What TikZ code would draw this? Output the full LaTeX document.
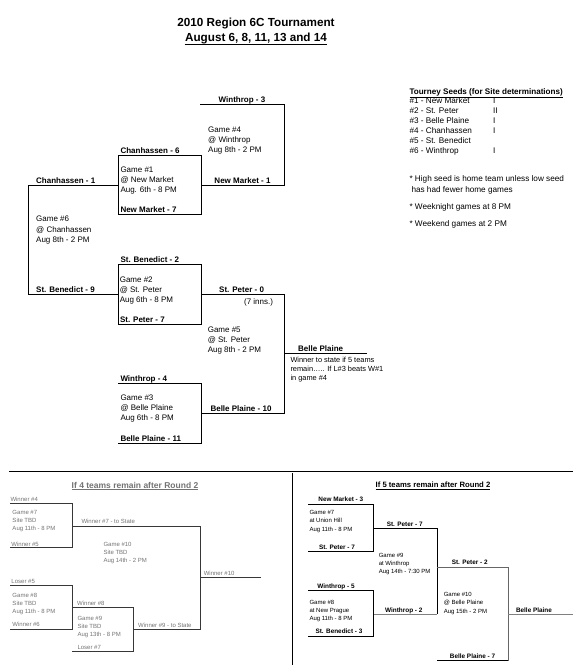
\documentclass[tikz,border=0pt]{standalone}
\usepackage{fontspec}
\setmainfont{Liberation Sans}
\usepackage{tikz}
\definecolor{lgray}{RGB}{115,115,115}
\definecolor{dgray}{RGB}{55,55,55}

\begin{document}
\begin{tikzpicture}[x=1pt,y=-1pt,line width=1pt,inner sep=0pt]
		\tikzstyle{team}=[font=\bfseries\fontsize{8}{10}\selectfont,anchor=base]
		\tikzstyle{game}=[font=\fontsize{8}{10.2}\selectfont,align=left,anchor=north west]
		\tikzstyle{note}=[font=\fontsize{8.2}{10}\selectfont,anchor=base west]
		\tikzstyle{gtxt}=[font=\fontsize{6}{7.8}\selectfont,text=lgray,align=left,anchor=north west]
		\tikzstyle{glbl}=[font=\fontsize{6}{7.8}\selectfont,text=lgray,anchor=base west]
		\tikzstyle{rtxt}=[font=\fontsize{6}{8.2}\selectfont,align=left,anchor=north west]
		\tikzstyle{rlbl}=[font=\bfseries\fontsize{6.4}{8}\selectfont,anchor=base]
		
		\useasboundingbox (0,0) rectangle (580,665);
		
		% title
		\node[font=\bfseries\fontsize{11.7}{14}\selectfont,anchor=base] (t1) at (256,26.5) {2010 Region 6C Tournament};
		\node[font=\bfseries\fontsize{11.7}{14}\selectfont,anchor=base] (t2) at (256,41.9) {August 6, 8, 11, 13 and 14};
		\draw[line width=1.1pt] ([yshift=-2.2pt]t2.base west) -- ([yshift=-2.2pt]t2.base east);
		
		% upper bracket
		\coordinate (w3) at (200,104);
		\coordinate (w3r) at (284,104);
		\coordinate (nm1) at (201,185);
		\coordinate (nm1r) at (284,185);
		\coordinate (c1) at (28,185);
		\coordinate (c1r) at (118,185);
		\coordinate (sb9) at (28,294);
		\coordinate (sb9r) at (118,294);
		\coordinate (sp0) at (201,294);
		\coordinate (sp0r) at (284,294);
		\coordinate (bp10) at (201,413);
		\coordinate (bp10r) at (284,413);
		\coordinate (bp) at (284,353);
		\coordinate (bpr) at (367,353);
		\coordinate (g1a) at (118,155);
		\coordinate (g1b) at (201,214);
		\coordinate (g2a) at (118,264);
		\coordinate (g2b) at (201,324);
		\coordinate (g3a) at (118,383);
		\coordinate (g3b) at (201,383);
		\coordinate (g3c) at (201,443);
		\coordinate (g3d) at (118,443);
		
		\draw (w3) -- (w3r) -- (nm1r) -- (nm1);
		\draw (c1r) -- (c1) -- (sb9) -- (sb9r);
		\draw (sp0) -- (sp0r) -- (bp10r) -- (bp10);
		\draw (bp) -- (bpr);
		\draw (g1a) rectangle (g1b);
		\draw (g2a) rectangle (g2b);
		\draw (g3a) -- (g3b) -- (g3c) -- (g3d);
		
		\node[team] (lw3) at (242,102) {Winthrop - 3};
		\node[team,anchor=base west] (lc6) at (120,153) {Chanhassen - 6};
		\node[team,anchor=base west] (lnm7) at (120,212) {New Market - 7};
		\node[team] (lnm1) at (242.5,183) {New Market - 1};
		\node[team,anchor=base west] (lc1) at (35.7,183) {Chanhassen - 1};
		\node[team,anchor=base west] (lsb9) at (35.7,292) {St. Benedict - 9};
		\node[team,anchor=base west] (lsb2) at (120,262) {St. Benedict - 2};
		\node[team,anchor=base west] (lsp7) at (119.5,322) {St. Peter - 7};
		\node[team] (lsp0) at (241.6,292) {St. Peter - 0};
		\node[font=\fontsize{8}{10}\selectfont,anchor=base east] (linn) at (273.5,304.5) {(7 inns.)};
		\node[team,anchor=base west] (lw4) at (120,381) {Winthrop - 4};
		\node[team,anchor=base west] (lbp11) at (120,441) {Belle Plaine - 11};
		\node[team] (lbp10) at (241,411) {Belle Plaine - 10};
		\node[team,anchor=base west] (lbp) at (297.7,351) {Belle Plaine};
		
		\node[game] (g4) at (207.7,126.3) {Game \#4\\@ Winthrop\\Aug 8th - 2 PM};
		\node[game] (g1) at (120,166.3) {Game \#1\\@ New Market\\Aug. 6th - 8 PM};
		\node[game,font=\fontsize{8}{10.8}\selectfont] (g6) at (35.7,215.3) {Game \#6\\@ Chanhassen\\Aug 8th - 2 PM};
		\node[game] (g2) at (119.3,276.3) {Game \#2\\@ St. Peter\\Aug 6th - 8 PM};
		\node[game] (g5) at (207.3,326) {Game \#5\\@ St. Peter\\Aug 8th - 2 PM};
		\node[game] (g3) at (120,394.2) {Game \#3\\@ Belle Plaine\\Aug 6th - 8 PM};
		\node[game,font=\fontsize{7.4}{9.3}\selectfont] (wt) at (290,356.3) {Winner to state if 5 teams\\remain….. If L\#3 beats W\#1\\in game \#4};
		
		% seeds and notes
		\node[note,font=\bfseries\fontsize{8.1}{10}\selectfont] (sh) at (409,94) {\underline{Tourney Seeds (for Site determinations)}};
		\node[note] (s1) at (409,103) {\#1 - New Market};
		\node[note] (s2) at (409,113) {\#2 - St. Peter};
		\node[note] (s3) at (409,123) {\#3 - Belle Plaine};
		\node[note] (s4) at (409,133) {\#4 - Chanhassen};
		\node[note] (s5) at (409,143) {\#5 - St. Benedict};
		\node[note] (s6) at (409,153) {\#6 - Winthrop};
		\node[note] (r1) at (492.7,103) {I};
		\node[note] (r2) at (492.7,113) {II};
		\node[note] (r3) at (492.7,123) {I};
		\node[note] (r4) at (492.7,133) {I};
		\node[note] (r6) at (492.7,153) {I};
		\node[note] (n1) at (409,181.9) {* High seed is home team unless low seed};
		\node[note] (n2) at (411,192.2) {has had fewer home games};
		\node[note] (n3) at (409,209.6) {* Weeknight games at 8 PM};
		\node[note] (n4) at (409,226.2) {* Weekend games at 2 PM};
		
		% separators
		\coordinate (hl) at (9,471.7);
		\coordinate (hr) at (573,471.7);
		\coordinate (vt) at (292.7,473);
		\coordinate (vb) at (292.7,665);
		\draw[line width=1.2pt] (hl) -- (hr);
		\draw (vt) -- (vb);
		
		% if 4 teams remain
		\node[font=\bfseries\fontsize{8.5}{10}\selectfont,text=lgray,anchor=base] (h4) at (135,488) {\underline{If 4 teams remain after Round 2}};
		\coordinate (a1) at (10,503.3);
		\coordinate (a2) at (72,503.3);
		\coordinate (a3) at (72,547.7);
		\coordinate (a4) at (10,547.7);
		\coordinate (a5) at (72,526);
		\coordinate (a6) at (200,526);
		\coordinate (a7) at (200,629);
		\coordinate (a8) at (133,629);
		\coordinate (a9) at (200,577.3);
		\coordinate (a10) at (261,577.3);
		\coordinate (b1) at (10,585);
		\coordinate (b2) at (72,585);
		\coordinate (b3) at (72,629.3);
		\coordinate (b4) at (10,629.3);
		\coordinate (b5) at (72,607.5);
		\coordinate (b6) at (133,607.5);
		\coordinate (b7) at (133,651.5);
		\coordinate (b8) at (72,651.5);
		\begin{scope}[draw=dgray,line width=0.9pt]
		\draw (a1) -- (a2) -- (a3) -- (a4);
		\draw (a5) -- (a6) -- (a7) -- (a8);
		\draw (a9) -- (a10);
		\draw (b1) -- (b2) -- (b3) -- (b4);
		\draw (b5) -- (b6) -- (b7) -- (b8);
		\end{scope}
		
		\node[glbl] (lwn4) at (10,501.5) {Winner \#4};
		\node[glbl] (lwn5) at (11,546.2) {Winner \#5};
		\node[glbl] (lwn7) at (81,523.9) {Winner \#7 - to State};
		\node[glbl] (lwn10) at (203.3,575.5) {Winner \#10};
		\node[glbl] (lls5) at (11,583.2) {Loser \#5};
		\node[glbl] (lwn6) at (12,626.5) {Winner \#6};
		\node[glbl] (lwn8) at (76.7,605.5) {Winner \#8};
		\node[glbl] (lls7) at (77,649.7) {Loser \#7};
		\node[glbl] (lwn9) at (137.7,627.9) {Winner \#9 - to State};
		\node[gtxt] (q7) at (12,510.1) {Game \#7\\Site TBD\\Aug 11th - 8 PM};
		\node[gtxt] (q10) at (103,541.8) {Game \#10\\Site TBD\\Aug 14th - 2 PM};
		\node[gtxt] (q8) at (12,592.8) {Game \#8\\Site TBD\\Aug 11th - 8 PM};
		\node[gtxt] (q9) at (77,616.1) {Game \#9\\Site TBD\\Aug 13th - 8 PM};
		
		% if 5 teams remain
		\node[font=\bfseries\fontsize{7.7}{10}\selectfont,anchor=base] (h5) at (433,487.8) {\underline{If 5 teams remain after Round 2}};
		\coordinate (c1a) at (308,504.3);
		\coordinate (c1b) at (373,504.3);
		\coordinate (c1c) at (373,551);
		\coordinate (c1d) at (308,551);
		\coordinate (c2a) at (373,528.3);
		\coordinate (c2b) at (437,528.3);
		\coordinate (c2c) at (437,614);
		\coordinate (c2d) at (373,614);
		\coordinate (d1a) at (308,590);
		\coordinate (d1b) at (373,590);
		\coordinate (d1c) at (373,636);
		\coordinate (d1d) at (308,636);
		\coordinate (e1a) at (437,567);
		\coordinate (e1b) at (508,567);
		\coordinate (e1c) at (508,660.5);
		\coordinate (e1d) at (437,660.5);
		\coordinate (e2a) at (508,614);
		\coordinate (e2b) at (573,614);
		\draw (c1a) -- (c1b) -- (c1c) -- (c1d);
		\draw (c2a) -- (c2b) -- (c2c);
		\draw[gray] (c2c) -- (c2d);
		\draw (d1a) -- (d1b) -- (d1c) -- (d1d);
		\draw[gray!80!black] (e1a) -- (e1b) -- (e1c);
		\draw (e1c) -- (e1d);
		\draw[gray] (e2a) -- (e2b);
		
		\node[rlbl] (lnm3) at (340.8,501.6) {New Market - 3};
		\node[rlbl] (lsp7a) at (337,549.3) {St. Peter - 7};
		\node[rlbl] (lsp7b) at (404.7,526.3) {St. Peter - 7};
		\node[rlbl] (lw5) at (336,588.3) {Winthrop - 5};
		\node[rlbl] (lsb3) at (339,633.8) {St. Benedict - 3};
		\node[rlbl] (lw2) at (403.8,612.3) {Winthrop - 2};
		\node[rlbl] (lsp2) at (469.7,564.6) {St. Peter - 2};
		\node[rlbl] (lbpf) at (534,612.3) {Belle Plaine};
		\node[rlbl] (lbp7) at (472.5,658.8) {Belle Plaine - 7};
		\node[rtxt] (k7) at (309,510.1) {Game \#7\\at Union Hill\\Aug 11th - 8 PM};
		\node[rtxt] (k9) at (378.3,552.8) {Game \#9\\at Winthrop\\Aug 14th - 7:30 PM};
		\node[rtxt] (k8) at (309,599.5) {Game \#8\\at New Prague\\Aug 11th - 8 PM};
		\node[rtxt] (k10) at (443.3,592.1) {Game \#10\\@ Belle Plaine\\Aug 15th - 2 PM};
\end{tikzpicture}
\end{document}
